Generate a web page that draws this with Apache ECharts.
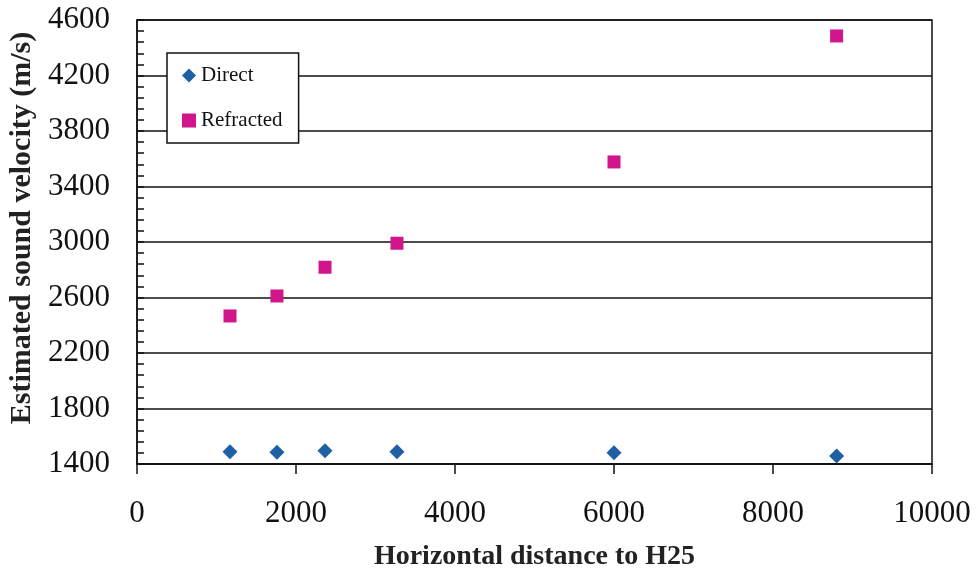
<!DOCTYPE html>
<html>
<head>
<meta charset="utf-8">
<script src="https://cdn.jsdelivr.net/npm/echarts@6/dist/echarts.min.js"></script>
<style>html,body{margin:0;padding:0;background:#fff}#c{width:977px;height:579px}</style>
</head>
<body>
<div id="c"></div>
<script>
const xTicks = [0, 2000, 4000, 6000, 8000, 10000];
const yTicks = [1400, 1800, 2200, 2600, 3000, 3400, 3800, 4200, 4600];
const directX = [1170, 1760, 2365, 3270, 6000, 8800];
const directY = [1489, 1484, 1496, 1489, 1481, 1458];
const refractedX = [1170, 1760, 2365, 3270, 6000, 8800];
const refractedY = [2467, 2611, 2818, 2991, 3577, 4485];

const font = 'Liberation Serif';
const chart = echarts.init(document.getElementById('c'));
chart.setOption({
  backgroundColor: '#fff',
  animation: false,
  grid: { left: 137, right: 45, top: 20, bottom: 115, containLabel: false, outerBoundsMode: 'none',
    show: true, borderColor: '#111', borderWidth: 1.5, backgroundColor: 'transparent' },
  legend: {
    orient: 'vertical', left: 167, top: 53,
    borderColor: '#111', borderWidth: 1.5, backgroundColor: '#fff',
    padding: [12, 16, 12, 15], itemGap: 24, itemWidth: 14, itemHeight: 14, itemTextGap: 5,
    textStyle: { fontFamily: font, fontSize: 21, color: '#111' },
    data: [{ name: 'Direct', icon: 'diamond' }, { name: 'Refracted', icon: 'rect' }]
  },
  xAxis: {
    type: 'value', min: xTicks[0], max: xTicks[xTicks.length - 1], interval: 2000,
    name: 'Horizontal distance to H25', nameLocation: 'middle', nameGap: 79,
    nameTextStyle: { fontFamily: font, fontSize: 28, fontWeight: 'bold', color: '#222' },
    axisLine: { lineStyle: { color: '#111', width: 1.5 } },
    axisTick: { show: true, inside: false, length: 10, lineStyle: { color: '#111', width: 1.5 } },
    axisLabel: { fontFamily: font, fontSize: 31, color: '#111', margin: 34, formatter: v => String(v) },
    splitLine: { show: false }
  },
  yAxis: {
    type: 'value', min: yTicks[0], max: yTicks[yTicks.length - 1], interval: 400,
    name: 'Estimated sound velocity (m/s)', nameLocation: 'middle', nameGap: 89, nameRotate: 90,
    nameTextStyle: { fontFamily: font, fontSize: 30, fontWeight: 'bold', color: '#222', padding: [0, 0, 0, 28] },
    axisLine: { show: true, lineStyle: { color: '#111', width: 1.5 } },
    axisTick: { show: true, inside: true, length: 7, lineStyle: { color: '#111', width: 1.5 } },
    minorTick: { show: true, splitNumber: 5, length: 7, lineStyle: { color: '#111', width: 1.5 } },
    axisLabel: { fontFamily: font, fontSize: 31, color: '#111', margin: 27, formatter: v => String(v) },
    splitLine: { show: true, lineStyle: { color: '#111', width: 1.5 } }
  },
  series: [
    { name: 'Direct', type: 'scatter', symbol: 'diamond', symbolSize: 15,
      itemStyle: { color: '#1f5fa3', opacity: 1 },
      data: directX.map((x, i) => [x, directY[i]]) },
    { name: 'Refracted', type: 'scatter', symbol: 'rect', symbolSize: 13,
      itemStyle: { color: '#d0168a', opacity: 1 },
      data: refractedX.map((x, i) => [x, refractedY[i]]) }
  ]
});
</script>
</body>
</html>
